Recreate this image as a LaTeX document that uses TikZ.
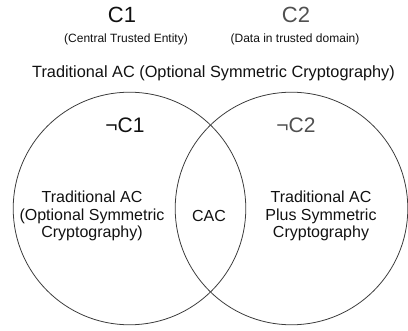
\documentclass[tikz,border=0pt]{standalone}
\usepackage{fontspec}
\setmainfont{Liberation Sans}
\begin{document}
\begin{tikzpicture}[x=1pt,y=-1pt]
  \definecolor{ink}{HTML}{111111}
  \definecolor{dim}{HTML}{505050}
  \definecolor{rim}{HTML}{3C3C3C}
  \tikzset{
    ring/.style={circle,draw=rim,line width=0.8pt,minimum size=232.6pt,inner sep=0pt},
    big/.style={inner sep=0pt,text=ink,font=\fontsize{22}{24}\selectfont},
    neg/.style={inner sep=0pt,text=ink,font=\fontsize{21}{23}\selectfont},
    small/.style={inner sep=0pt,text=ink,font=\fontsize{12}{14}\selectfont},
    body/.style={inner sep=0pt,text=ink,align=center,font=\fontsize{16}{17.5}\selectfont}
  }
  \useasboundingbox (0,0) rectangle (408,331);

  % the two overlapping sets
  \node[ring] (left) at (129.5,208.5) {};
  \node[ring] (right) at (291.5,208.5) {};

  % headings above the sets
  \node[big] (c1) at (122,15) {C1};
  \node[big,text=dim] (c2) at (296,15) {C2};
  \node[small] (c1sub) at (126,39) {(Central Trusted Entity)};
  \node[small] (c2sub) at (295,39) {(Data in trusted domain)};
  \node[body,font=\fontsize{16.3}{18}\selectfont] (title) at (213.5,73.5) {Traditional AC (Optional Symmetric Cryptography)};

  % set names
  \node[neg] (n1) at (125,125.5) {¬C1};
  \node[neg,text=dim] (n2) at (296,125.5) {¬C2};

  % region contents
  \node[body] (lefttext) at (92,216) {Traditional AC\\(Optional Symmetric\\Cryptography)};
  \node[body] (cac) at (209,216) {CAC};
  \node[body] (righttext) at (321,216) {Traditional AC\\Plus Symmetric\\Cryptography};
\end{tikzpicture}
\end{document}
